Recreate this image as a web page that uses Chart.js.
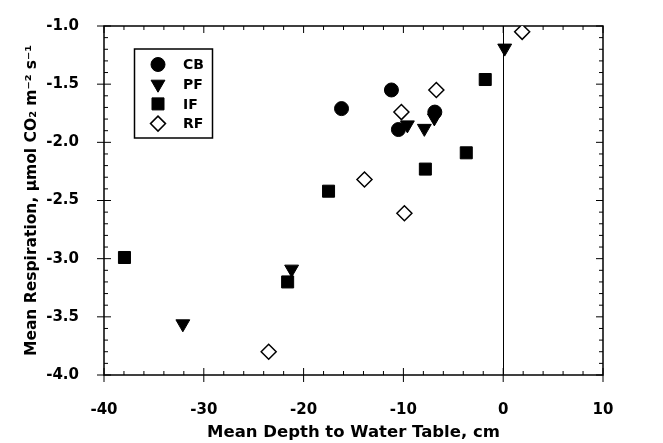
<!DOCTYPE html>
<html>
<head>
<meta charset="utf-8">
<script src="https://cdn.jsdelivr.net/npm/chart.js@4.4.1/dist/chart.umd.min.js"></script>
<style>
  html, body { margin: 0; padding: 0; background: #fff; }
</style>
</head>
<body>
<canvas id="respChart" width="663" height="443"></canvas>
<script>
// values
const cbX = [-16.2, -11.2, -10.5, -6.85];
const cbY = [-1.71, -1.55, -1.89, -1.74];
const pfX = [0.15, -9.6, -7.9, -6.9, -21.2, -32.1];
const pfY = [-1.19, -1.85, -1.88, -1.79, -3.09, -3.56];
const ifX = [-1.8, -3.7, -7.8, -17.5, -21.6, -37.95];
const ifY = [-1.46, -2.09, -2.23, -2.42, -3.2, -2.99];
const rfX = [1.9, -6.7, -10.2, -13.9, -9.9, -23.5];
const rfY = [-1.05, -1.55, -1.74, -2.32, -2.61, -3.8];

const seriesNames = ["CB", "PF", "IF", "RF"];
const xTicks = [-40, -30, -20, -10, 0, 10];
const yTicks = [-4.0, -3.5, -3.0, -2.5, -2.0, -1.5, -1.0];
const xMinorStep = 2;
const yMinorStep = 0.1;

const FONT = "'DejaVu Sans', 'Liberation Sans', Arial, sans-serif";
const pts = (xs, ys) => xs.map((x, i) => ({ x: x, y: ys[i] }));

const datasets = [
  { label: seriesNames[0], data: pts(cbX, cbY), pointStyle: "circle", pointRadius: 7,
    backgroundColor: "#000", borderColor: "#000", borderWidth: 1 },
  { label: seriesNames[1], data: pts(pfX, pfY), pointStyle: "triangle", rotation: 180, pointRadius: 8,
    backgroundColor: "#000", borderColor: "#000", borderWidth: 1 },
  { label: seriesNames[2], data: pts(ifX, ifY), pointStyle: "rect", pointRadius: 8.5,
    backgroundColor: "#000", borderColor: "#000", borderWidth: 1 },
  { label: seriesNames[3], data: pts(rfX, rfY), pointStyle: "rectRot", pointRadius: 7.5,
    backgroundColor: "#fff", borderColor: "#000", borderWidth: 1.5 }
];

// frame, inward ticks and the zero line
const framePlugin = {
  id: "frame",
  beforeDatasetsDraw(chart) {
    const { ctx, chartArea: a, scales: { x, y } } = chart;
    ctx.save();
    ctx.strokeStyle = "#000";

    // vertical line at x = 0
    ctx.lineWidth = 1;
    const x0 = Math.round(x.getPixelForValue(0)) + 0.5;
    ctx.beginPath();
    ctx.moveTo(x0, a.top);
    ctx.lineTo(x0, a.bottom);
    ctx.stroke();

    ctx.lineWidth = 1.5;
    ctx.strokeRect(a.left, a.top, a.right - a.left, a.bottom - a.top);

    ctx.lineWidth = 1;
    ctx.beginPath();
    for (let v = xTicks[0]; v <= xTicks[xTicks.length - 1] + 1e-9; v += xMinorStep) {
      const px = x.getPixelForValue(v);
      const major = xTicks.includes(Math.round(v));
      const len = major ? 7 : 4;
      ctx.moveTo(px, a.bottom + (major ? 7 : 0));
      ctx.lineTo(px, a.bottom - len);
      ctx.moveTo(px, a.top);
      ctx.lineTo(px, a.top + len);
    }
    for (let k = 0; k <= 30; k++) {
      const v = yTicks[0] + k * yMinorStep;
      const py = y.getPixelForValue(v);
      const major = k % 5 === 0;
      const len = major ? 7 : 4;
      ctx.moveTo(a.left - (major ? 7 : 0), py);
      ctx.lineTo(a.left + len, py);
      ctx.moveTo(a.right, py);
      ctx.lineTo(a.right - len, py);
    }
    ctx.stroke();
    ctx.restore();
  },
  afterDatasetsDraw(chart) {
    // legend box in the upper left of the plot
    const { ctx } = chart;
    const box = { left: 134.5, top: 49, width: 78, height: 89 };
    ctx.save();
    ctx.fillStyle = "#fff";
    ctx.fillRect(box.left, box.top, box.width, box.height);
    ctx.strokeStyle = "#000";
    ctx.lineWidth = 1.5;
    ctx.strokeRect(box.left, box.top, box.width, box.height);
    ctx.font = "bold 14px " + FONT;
    ctx.textBaseline = "middle";
    ctx.textAlign = "left";
    chart.data.datasets.forEach((ds, i) => {
      const cy = box.top + 15.5 + i * 19.7;
      ctx.fillStyle = ds.backgroundColor;
      ctx.strokeStyle = ds.borderColor;
      ctx.lineWidth = ds.borderWidth;
      Chart.helpers.drawPoint(ctx, {
        pointStyle: ds.pointStyle, radius: ds.pointRadius, rotation: ds.rotation || 0,
        borderWidth: ds.borderWidth
      }, 158, cy);
      ctx.fillStyle = "#000";
      ctx.fillText(ds.label, 183, cy + 1);
    });
    ctx.restore();
  }
};

new Chart(document.getElementById("respChart"), {
  type: "scatter",
  data: { datasets: datasets },
  plugins: [framePlugin],
  options: {
    responsive: false,
    animation: false,
    layout: { padding: { left: 0, top: 17, right: 60, bottom: 0 } },
    plugins: { legend: { display: false }, tooltip: { enabled: false } },
    scales: {
      x: {
        type: "linear", min: -40, max: 10,
        afterBuildTicks: s => { s.ticks = xTicks.map(v => ({ value: v })); },
        afterFit: s => { s.height = 68; },
        grid: { display: false }, border: { display: false },
        ticks: { color: "#000", padding: 18, maxRotation: 0,
          font: { family: FONT, size: 15, weight: "bold" },
          callback: v => String(v) },
        title: { display: true, text: "Mean Depth to Water Table, cm", color: "#000",
          font: { family: FONT, size: 16.5, weight: "bold" }, padding: { top: 1, bottom: 0 } }
      },
      y: {
        type: "linear", min: -4, max: -1,
        afterBuildTicks: s => { s.ticks = yTicks.map(v => ({ value: v })); },
        afterFit: s => { s.width = 104; },
        grid: { display: false }, border: { display: false },
        ticks: { color: "#000", padding: 17,
          font: { family: FONT, size: 15, weight: "bold" },
          callback: v => Number(v).toFixed(1) },
        title: { display: true, text: "Mean Respiration, µmol CO₂ m⁻² s⁻¹", color: "#000",
          font: { family: FONT, size: 15.5, weight: "bold" }, padding: { top: 23, bottom: 0 } }
      }
    }
  }
});
</script>
</body>
</html>
